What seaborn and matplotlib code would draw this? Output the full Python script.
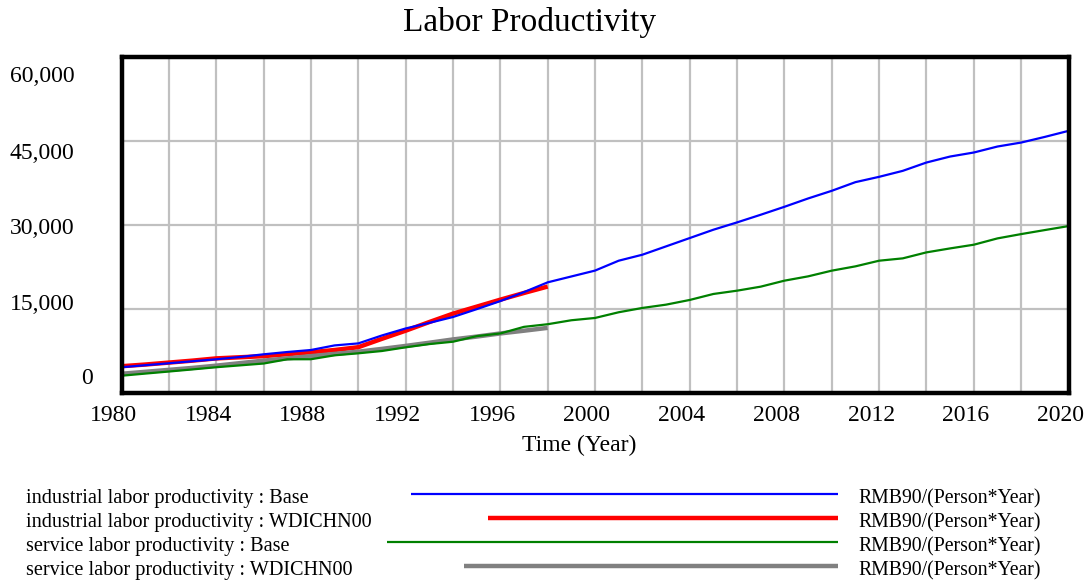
import numpy as np
import pandas as pd
import matplotlib
matplotlib.use("Agg")
import matplotlib.pyplot as plt
import matplotlib.transforms as mtransforms
from matplotlib.lines import Line2D
import seaborn as sns

# ---------------- data ----------------
years_base = list(range(1980, 2021))
years_hist = list(range(1980, 1999))

industrial_base = [4520, 4880, 5230, 5590, 5940, 6350, 6830, 7240, 7600, 8420,
                   8780, 10200, 11450, 12450, 13500, 14900, 16350, 17950, 19700, 20750,
                   21800, 23570, 24640, 26130, 27620, 29110, 30420, 31790, 33210, 34700,
                   36070, 37620, 38570, 39640, 41130, 42200, 42920, 43990, 44700, 45710,
                   46790]
industrial_wdi = [4700, 5000, 5350, 5700, 6100, 6300, 6500, 6850, 7200, 7600,
                  8100, 9600, 11050, 12600, 14100, 15350, 16600, 17800, 18950]
service_base = [3000, 3380, 3750, 4130, 4520, 4850, 5180, 5940, 5950, 6650,
                7010, 7420, 8080, 8660, 9080, 10080, 10560, 11740, 12210, 12920,
                13330, 14350, 15120, 15710, 16550, 17620, 18210, 18930, 20000, 20770,
                21790, 22560, 23570, 23990, 25060, 25770, 26430, 27560, 28330, 29050,
                29760]
service_wdi = [3350, 3700, 4050, 4400, 4800, 5250, 5700, 6100, 6500, 6900,
               7300, 7800, 8330, 8900, 9490, 10000, 10560, 11050, 11560]

series_labels = ["industrial labor productivity : Base",
                 "industrial labor productivity : WDICHN00",
                 "service labor productivity : Base",
                 "service labor productivity : WDICHN00"]
units = "RMB90/(Person*Year)"
title = "Labor Productivity"
xlabel = "Time (Year)"
x_ticks = list(range(1980, 2021, 4))
y_ticks = [0, 15000, 30000, 45000, 60000]
y_tick_labels = ["0", "15,000", "30,000", "45,000", "60,000"]

# ---------------- style ----------------
sns.set_style("white")
plt.rcParams["font.family"] = ["Liberation Serif", "DejaVu Serif"]
plt.rcParams["text.color"] = "black"
plt.rcParams["xtick.color"] = "black"
plt.rcParams["ytick.color"] = "black"

W, H = 1088, 582
fig = plt.figure(figsize=(W / 100, H / 100), dpi=100)
ax = fig.add_axes([121.5 / W, 1 - 392.5 / H, (1068.5 - 121.5) / W, (392.5 - 57) / H])

df_ib = pd.DataFrame({"year": years_base, "value": industrial_base})
df_iw = pd.DataFrame({"year": years_hist, "value": industrial_wdi})
df_sb = pd.DataFrame({"year": years_base, "value": service_base})
df_sw = pd.DataFrame({"year": years_hist, "value": service_wdi})

colors = ["#0000ff", "#ff0000", "#008000", "#808080"]
widths = [1.6, 3.2, 1.6, 3.2]

sns.lineplot(data=df_iw, x="year", y="value", color=colors[1], linewidth=widths[1], ax=ax, zorder=3)
sns.lineplot(data=df_sw, x="year", y="value", color=colors[3], linewidth=widths[3], ax=ax, zorder=3)
sns.lineplot(data=df_ib, x="year", y="value", color=colors[0], linewidth=widths[0], ax=ax, zorder=4)
sns.lineplot(data=df_sb, x="year", y="value", color=colors[2], linewidth=widths[2], ax=ax, zorder=4)
for ln in ax.get_lines():
    ln.set_solid_capstyle("butt")

ax.set_xlim(1980, 2020)
ax.set_ylim(0, 60000)
ax.set_xlabel("")
ax.set_ylabel("")

ax.set_xticks(x_ticks)
ax.set_xticks(list(range(1980, 2021, 2)), minor=True)
ax.set_yticks(y_ticks)
ax.set_yticklabels(y_tick_labels)
ax.grid(True, which="both", axis="x", color="#c0c0c0", linewidth=1.6, zorder=1)
ax.grid(True, which="major", axis="y", color="#c0c0c0", linewidth=1.6, zorder=1)
ax.set_axisbelow(True)

for s in ax.spines.values():
    s.set_color("black")
    s.set_linewidth(3.2)
    s.set_zorder(5)

ax.tick_params(axis="both", which="both", length=0)
ax.tick_params(axis="x", labelsize=17, pad=9, labelcolor="black")
ax.tick_params(axis="y", labelsize=17, pad=34, labelcolor="black")

# Vensim-like label placement offsets (pixels)
for lab in ax.get_xticklabels():
    lab.set_transform(lab.get_transform() + mtransforms.ScaledTranslation(-0.08, 0, fig.dpi_scale_trans))
y_offsets = {"0": (0.19, 0.16), "15,000": (0, 0.07), "30,000": (0, -0.01),
             "45,000": (0, -0.10), "60,000": (0, -0.17)}
for lab in ax.get_yticklabels():
    dx, dy = y_offsets.get(lab.get_text(), (0, 0))
    lab.set_transform(lab.get_transform() + mtransforms.ScaledTranslation(dx, dy, fig.dpi_scale_trans))

fig.text(530 / W, 1 - 23 / H, title, fontsize=24, ha="center", va="center", color="black")
fig.text(579 / W, 1 - 445 / H, xlabel, fontsize=17, ha="center", va="center", color="black")

# legend block
row_y = [497, 521, 545, 569]
line_start = [411, 488, 387, 464]
line_y_off = -3
text_y_off = 2
for lbl, c, lw, yy, xs in zip(series_labels, colors, widths, row_y, line_start):
    fig.text(26 / W, 1 - (yy + text_y_off) / H, lbl, fontsize=14.6, ha="left", va="center", color="black")
    fig.add_artist(Line2D([xs / W, 838 / W], [1 - (yy + line_y_off) / H] * 2,
                          color=c, linewidth=lw, solid_capstyle="butt",
                          transform=fig.transFigure))
    fig.text(858 / W, 1 - (yy + text_y_off) / H, units, fontsize=14.2, ha="left", va="center", color="black")

fig.savefig("out.png", dpi=100)
